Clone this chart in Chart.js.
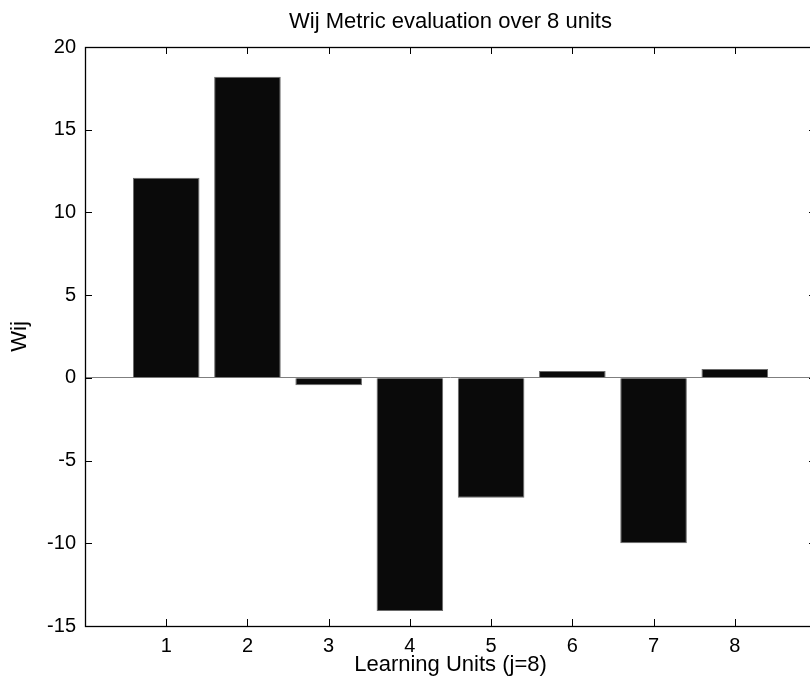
<!DOCTYPE html>
<html>
<head>
<meta charset="utf-8">
<script src="https://cdn.jsdelivr.net/npm/chart.js@4.4.1/dist/chart.umd.min.js"></script>
<style>
  html, body { margin: 0; padding: 0; background: #ffffff; }
  #wrap { width: 810px; height: 686px; overflow: hidden; position: relative; }
  canvas { display: block; }
</style>
</head>
<body>
<div id="wrap"><canvas id="c" width="820" height="686" style="width:820px;height:686px"></canvas></div>
<script>
const categories = ['1', '2', '3', '4', '5', '6', '7', '8'];
const wijValues = [12.1, 18.2, -0.44, -14.1, -7.25, 0.42, -10.0, 0.53];
const yTickValues = [-15, -10, -5, 0, 5, 10, 15, 20];
const xTickValues = [1, 2, 3, 4, 5, 6, 7, 8];

const FONT = "'Liberation Sans', Arial, Helvetica, sans-serif";

const points = categories.map((c, i) => ({ x: Number(c), y: wijValues[i] }));

const boxAndTicks = {
  id: 'boxAndTicks',
  afterDraw(chart) {
    const { ctx, chartArea: a, scales } = chart;
    const tl = 7;
    ctx.save();
    ctx.strokeStyle = '#000000';
    ctx.lineWidth = 1;
    ctx.beginPath();
    xTickValues.forEach(v => {
      const px = Math.round(scales.x.getPixelForValue(v)) + 0.5;
      ctx.moveTo(px, a.bottom); ctx.lineTo(px, a.bottom - tl);
      ctx.moveTo(px, a.top); ctx.lineTo(px, a.top + tl);
    });
    yTickValues.forEach(v => {
      const py = Math.round(scales.y.getPixelForValue(v)) + 0.5;
      ctx.moveTo(a.left, py); ctx.lineTo(a.left + tl, py);
      ctx.moveTo(a.right, py); ctx.lineTo(a.right - tl, py);
    });
    ctx.stroke();
    ctx.lineWidth = 1.3;
    ctx.strokeRect(Math.round(a.left) + 0.5, Math.round(a.top) + 0.5,
                   Math.round(a.right - a.left), Math.round(a.bottom - a.top));
    ctx.restore();
  }
};

new Chart(document.getElementById('c'), {
  type: 'bar',
  data: {
    datasets: [{
      data: points,
      xAxisID: 'x',
      yAxisID: 'y',
      backgroundColor: '#0a0a0a',
      borderColor: '#6a6a6a',
      borderWidth: 1,
      barPercentage: 0.82,
      categoryPercentage: 1.0
    }]
  },
  options: {
    responsive: false,
    animation: false,
    devicePixelRatio: 1,
    layout: { padding: { left: 0, right: 4, top: 0, bottom: 0 } },
    plugins: {
      legend: { display: false },
      tooltip: { enabled: false },
      title: { display: false }
    },
    scales: {
      x: {
        type: 'linear',
        position: 'bottom',
        min: 0,
        max: 9,
        offset: false,
        afterBuildTicks: axis => { axis.ticks = xTickValues.map(v => ({ value: v })); },
        afterFit: s => { s.height = 60; },
        grid: { display: false, drawTicks: false, offset: false },
        border: { display: false },
        ticks: {
          color: '#000000',
          padding: 8,
          maxRotation: 0,
          autoSkip: false,
          font: { family: FONT, size: 20 },
          callback: v => categories[xTickValues.indexOf(v)] ?? ''
        },
        title: {
          display: true,
          text: 'Learning Units (j=8)',
          color: '#000000',
          font: { family: FONT, size: 22, lineHeight: 1.2 },
          padding: { top: 0, bottom: 8 }
        }
      },
      xTop: {
        type: 'linear',
        position: 'top',
        min: 0,
        max: 9,
        offset: false,
        afterFit: s => { s.height = 47; },
        grid: { display: false, drawTicks: false },
        border: { display: false },
        ticks: { display: false },
        title: {
          display: true,
          text: 'Wij Metric evaluation over 8 units',
          color: '#000000',
          font: { family: FONT, size: 22, lineHeight: 1.2 },
          padding: { top: 9, bottom: 0 }
        }
      },
      y: {
        min: -15,
        max: 20,
        afterBuildTicks: axis => { axis.ticks = yTickValues.map(v => ({ value: v })); },
        afterFit: s => { s.width = 85; },
        grid: {
          display: true,
          drawTicks: false,
          lineWidth: 1,
          color: c => (c.tick && c.tick.value === 0) ? '#7f7f7f' : 'rgba(0,0,0,0)'
        },
        border: { display: false },
        ticks: {
          color: '#000000',
          padding: 9,
          autoSkip: false,
          font: { family: FONT, size: 20 },
          callback: v => String(v)
        },
        title: {
          display: true,
          text: 'Wij',
          color: '#000000',
          font: { family: FONT, size: 22, lineHeight: 1.2 },
          padding: { top: 7, bottom: 0 }
        }
      }
    }
  },
  plugins: [boxAndTicks]
});
</script>
</body>
</html>
